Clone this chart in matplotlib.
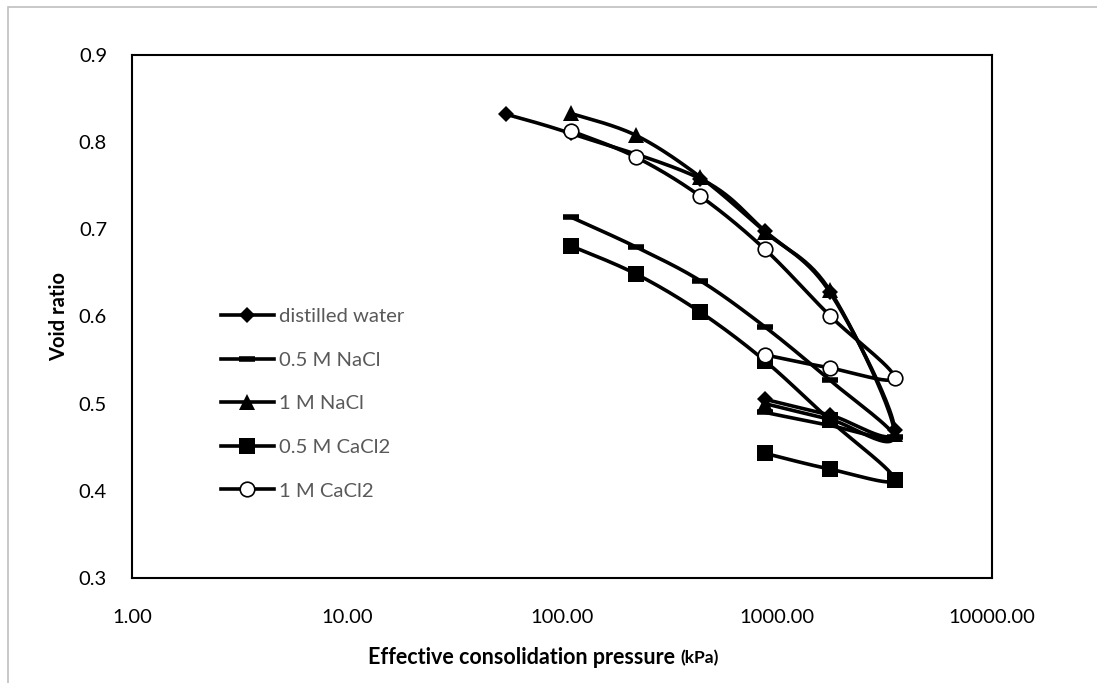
import numpy as np
import matplotlib
matplotlib.use("Agg")
import matplotlib.pyplot as plt
from matplotlib.lines import Line2D
from matplotlib.patches import Rectangle

plt.rcParams['font.family'] = ['Lato', 'DejaVu Sans']

# Consolidation test data: pressure (kPa) vs void ratio, loading then unloading
p_dw = [55, 110, 440, 880, 1760, 3520, 1760, 880]
e_dw = [0.832, 0.810, 0.758, 0.698, 0.628, 0.470, 0.487, 0.505]

p_nacl05 = [110, 220, 440, 880, 1760, 3520, 1760, 880]
e_nacl05 = [0.714, 0.680, 0.641, 0.588, 0.527, 0.462, 0.475, 0.490]

p_nacl1 = [110, 220, 440, 880, 1760, 3520, 1760, 880]
e_nacl1 = [0.833, 0.808, 0.760, 0.697, 0.630, 0.465, 0.482, 0.500]

p_cacl05 = [110, 220, 440, 880, 1760, 3520, 1760, 880]
e_cacl05 = [0.681, 0.649, 0.605, 0.549, 0.481, 0.413, 0.425, 0.443]

p_cacl1 = [110, 220, 440, 880, 1760, 3520, 1760, 880]
e_cacl1 = [0.813, 0.783, 0.738, 0.677, 0.601, 0.530, 0.541, 0.556]

labels = ['distilled water', '0.5 M NaCl', '1 M NaCl', '0.5 M CaCl2', '1 M CaCl2']
x_ticks = [1, 10, 100, 1000, 10000]
x_tick_labels = ['1.00', '10.00', '100.00', '1000.00', '10000.00']
y_ticks = [0.3, 0.4, 0.5, 0.6, 0.7, 0.8, 0.9]

W, H = 1097, 683
fig = plt.figure(figsize=(W / 100, H / 100), dpi=100)
fig.patch.set_facecolor('white')

# outer chart-area border
fig.add_artist(Rectangle((8 / W, -0.01), 1.2, (683 - 7) / H + 0.01,
                         transform=fig.transFigure, fill=False,
                         edgecolor='#bfbfbf', lw=1.2))

L, R, T, B = 132, 992, 55, 578
ax = fig.add_axes([L / W, (H - B) / H, (R - L) / W, (B - T) / H])
ax.set_xscale('log')
ax.set_xlim(1, 10000)
ax.set_ylim(0.3, 0.9)

px_dec = (R - L) / 4.0
px_unit = (B - T) / 0.6


def smooth(px, py, n=30):
    """Excel-style smoothed curve (cubic Bezier, 1/6 tension) in screen space."""
    X = np.log10(np.asarray(px, float)) * px_dec
    Y = np.asarray(py, float) * px_unit
    P = np.column_stack([X, Y])
    m = len(P)
    out = []
    for i in range(m - 1):
        p0 = P[i - 1] if i > 0 else P[i]
        p1 = P[i]
        p2 = P[i + 1]
        p3 = P[i + 2] if i + 2 < m else P[i + 1]
        c1 = p1 + (p2 - p0) / 6.0
        c2 = p2 - (p3 - p1) / 6.0
        t = np.linspace(0, 1, n)[:, None]
        seg = ((1 - t) ** 3) * p1 + 3 * ((1 - t) ** 2) * t * c1 + 3 * (1 - t) * t ** 2 * c2 + t ** 3 * p2
        out.append(seg if i == 0 else seg[1:])
    S = np.vstack(out)
    return 10 ** (S[:, 0] / px_dec), S[:, 1] / px_unit


lw = 2.6
series = [
    (p_dw, e_dw, dict(marker='D', ms=8.5, mfc='black', mec='black', mew=0)),
    (p_nacl05, e_nacl05, dict(marker='_', ms=12, mec='black', mew=4.0)),
    (p_nacl1, e_nacl1, dict(marker='^', ms=11, mfc='black', mec='black', mew=0)),
    (p_cacl05, e_cacl05, dict(marker='s', ms=11, mfc='black', mec='black', mew=0)),
    (p_cacl1, e_cacl1, dict(marker='o', ms=10.5, mfc='white', mec='black', mew=1.2)),
]

handles = []
for (px, py, mk), lab in zip(series, labels):
    sx, sy = smooth(px, py)
    ax.plot(sx, sy, color='black', lw=lw, solid_capstyle='round', zorder=2)
    ax.plot(px, py, ls='none', zorder=3, **mk)
    handles.append(Line2D([], [], color='black', lw=lw, **mk))

ax.set_xticks(x_ticks)
ax.set_xticklabels(x_tick_labels)
ax.set_yticks(y_ticks)
ax.set_yticklabels([f'{v:.1f}' for v in y_ticks])
ax.xaxis.set_minor_locator(matplotlib.ticker.NullLocator())
ax.tick_params(axis='both', length=0, labelsize=14.5, colors='black')
ax.tick_params(axis='x', pad=22)
ax.tick_params(axis='y', pad=18)
for s in ax.spines.values():
    s.set_linewidth(1.5)
    s.set_color('black')

ax.set_ylabel('Void ratio', fontsize=14.5, fontweight='bold', labelpad=7)

# x-axis title with a smaller unit part
t1 = fig.text(0.0, (H - 658) / H, 'Effective consolidation pressure ',
              fontsize=15.5, fontweight='bold', va='center', ha='left')
t2 = fig.text(0.0, (H - 658) / H, '(kPa)', fontsize=12.5, fontweight='bold',
              va='center', ha='left')
fig.canvas.draw()
r = fig.canvas.get_renderer()
w1 = t1.get_window_extent(r).width
w2 = t2.get_window_extent(r).width
x0 = 543 - (w1 + w2) / 2
t1.set_x(x0 / W)
t2.set_x((x0 + w1) / W)

leg = ax.legend(handles, labels, loc='upper left',
                bbox_to_anchor=((213 - L) / (R - L), 1 - (300 - T) / (B - T)),
                frameon=False, fontsize=14.6, handlelength=2.6, handletextpad=0.25,
                labelspacing=1.3, borderaxespad=0)
for t in leg.get_texts():
    t.set_color('#595959')

fig.savefig('out.png', dpi=100, facecolor='white')
